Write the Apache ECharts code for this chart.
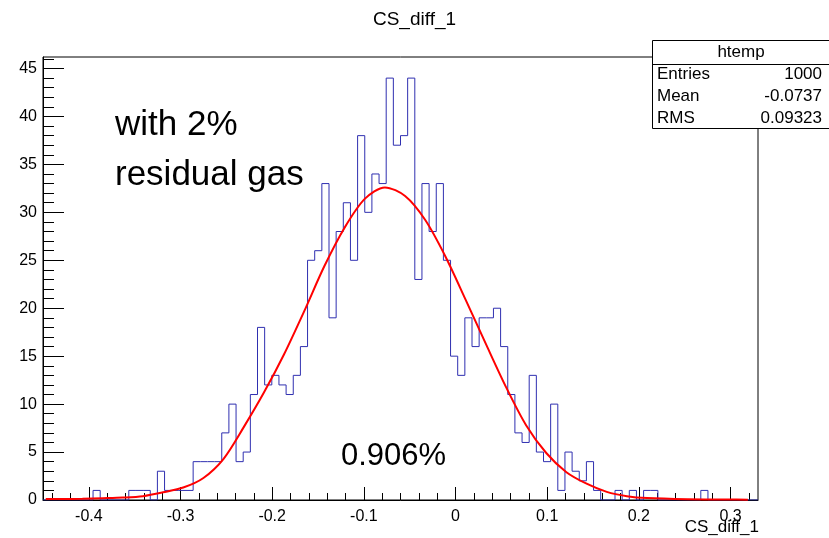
<!DOCTYPE html>
<html>
<head>
	<meta http-equiv="Content-Type" content="text/html; charset=UTF-8">
	<title>CS_diff_1</title>
	<script src="https://cdn.jsdelivr.net/npm/echarts@6/dist/echarts.min.js"></script>
	<style>
		body { margin: 0; background: #fff; }
	</style>
</head>
<body>

	<div id="main" style="width: 829px;height:538px;"></div>

	<script>

		// histogram binning (ROOT htemp, 100 bins)
		var histMin = -0.45;
		var histMax = 0.33;

		// bin contents
		var counts = [
			0, 0, 0, 0, 0, 0, 0, 1, 0, 0,
			0, 0, 1, 1, 1, 0, 3, 1, 1, 1,
			1, 4, 4, 4, 4, 7, 10, 4, 5, 11,
			18, 12, 13, 12, 11, 13, 16, 25, 26, 33,
			19, 28, 31, 25, 38, 30, 34, 33, 44, 37,
			38, 44, 23, 33, 28, 33, 25, 15, 13, 19,
			16, 19, 19, 20, 16, 11, 7, 6, 13, 5,
			4, 10, 1, 5, 3, 2, 4, 1, 0, 0,
			1, 0, 1, 0, 1, 1, 0, 0, 0, 0,
			0, 0, 1, 0, 0, 0, 0, 0, 0, 0
		];

		// gaussian fit curve
		var fitX = [-0.447, -0.429, -0.407, -0.385, -0.363, -0.341, -0.319, -0.297, -0.275, -0.253,
			-0.231, -0.209, -0.187, -0.165, -0.143, -0.121, -0.099, -0.077, -0.055, -0.033,
			-0.011, 0.011, 0.033, 0.055, 0.077, 0.099, 0.121, 0.143, 0.165, 0.187,
			0.209, 0.253, 0.297, 0.319];
		var fitY = [0.1, 0.1, 0.12, 0.18, 0.25, 0.4, 0.8, 1.3, 2.3, 4.3,
			7.6, 11.2, 15.2, 19.7, 24.4, 28.4, 31.4, 32.6, 31.7, 29.2,
			25.4, 20.9, 16.3, 11.8, 7.8, 4.9, 2.9, 1.7, 0.85, 0.4,
			0.2, 0.08, 0.05, 0.03];

		var xTickLabels = [-0.4, -0.3, -0.2, -0.1, 0, 0.1, 0.2, 0.3];
		var yTickLabels = [0, 5, 10, 15, 20, 25, 30, 35, 40, 45];

		var statsRows = [
			['Entries', '1000'],
			['Mean', '-0.0737'],
			['RMS', '0.09323']
		];

		var FONT = 'Liberation Sans';

		// step outline points: left edge of each bin, plus the right edge of the last one
		var binWidth = (histMax - histMin) / counts.length;
		var histData = [];
		for (var i = 0; i < counts.length; i++) {
			histData.push([histMin + i * binWidth, counts[i]]);
		}
		histData.push([histMax, counts[counts.length - 1]]);

		var fitData = [];
		for (var j = 0; j < fitX.length; j++) {
			fitData.push([fitX[j], fitY[j]]);
		}

		// minor tick positions
		var xMinor = [];
		for (var k = -22; k <= 16; k++) {
			xMinor.push(+(k * 0.02).toFixed(2));
		}
		var yMinor = [];
		for (var m = 0; m <= 46; m++) {
			yMinor.push(m);
		}

		var chartDom = document.getElementById('main');
		var myChart = echarts.init(chartDom, null, { renderer: 'canvas' });

		var statsGraphic = [
			{ type: 'rect', shape: { x: 652.5, y: 40.5, width: 177, height: 88 },
				style: { fill: '#fff', stroke: '#000', lineWidth: 1 } },
			{ type: 'line', shape: { x1: 652.5, y1: 64.5, x2: 829, y2: 64.5 },
				style: { stroke: '#000', lineWidth: 1 } },
			{ type: 'text', x: 741, y: 52,
				style: { text: 'htemp', font: '17px ' + FONT, fill: '#000', align: 'center', verticalAlign: 'middle' } }
		];
		for (var r = 0; r < statsRows.length; r++) {
			var ry = 74 + r * 22;
			statsGraphic.push({ type: 'text', x: 657, y: ry,
				style: { text: statsRows[r][0], font: '17px ' + FONT, fill: '#000', align: 'left', verticalAlign: 'middle' } });
			statsGraphic.push({ type: 'text', x: 822, y: ry,
				style: { text: statsRows[r][1], font: '17px ' + FONT, fill: '#000', align: 'right', verticalAlign: 'middle' } });
		}

		var option = {
			animation: false,
			backgroundColor: '#fff',
			textStyle: { fontFamily: FONT },
			title: {
				text: 'CS_diff_1',
				left: 'center',
				top: 5,
				textStyle: { fontFamily: FONT, fontSize: 19, fontWeight: 'normal', color: '#000' }
			},
			grid: {
				left: 43,
				right: 71,
				top: 57,
				bottom: 38,
				show: true,
				borderColor: '#000',
				borderWidth: 1,
				backgroundColor: 'transparent'
			},
			xAxis: [
				{
					type: 'value',
					min: histMin,
					max: histMax,
					axisLine: { show: true, onZero: false, lineStyle: { color: '#000', width: 1 } },
					axisTick: { show: true, inside: true, length: 13, customValues: xTickLabels, lineStyle: { color: '#000' } },
					axisLabel: { customValues: xTickLabels, margin: 9, fontSize: 16, color: '#000', fontFamily: FONT },
					splitLine: { show: false }
				},
				{
					type: 'value',
					min: histMin,
					max: histMax,
					position: 'bottom',
					axisLine: { show: false, onZero: false },
					axisTick: { show: true, inside: true, length: 7, customValues: xMinor, lineStyle: { color: '#000' } },
					axisLabel: { show: false },
					splitLine: { show: false }
				}
			],
			yAxis: [
				{
					type: 'value',
					min: 0,
					max: 46.2,
					position: 'left',
					axisLine: { show: true, onZero: false, lineStyle: { color: '#000', width: 1 } },
					axisTick: { show: true, inside: true, length: 21, customValues: yTickLabels, lineStyle: { color: '#000' } },
					axisLabel: { customValues: yTickLabels, margin: 6, fontSize: 16, color: '#000', fontFamily: FONT },
					splitLine: { show: false }
				},
				{
					type: 'value',
					min: 0,
					max: 46.2,
					position: 'left',
					axisLine: { show: false, onZero: false },
					axisTick: { show: true, inside: true, length: 11, customValues: yMinor, lineStyle: { color: '#000' } },
					axisLabel: { show: false },
					splitLine: { show: false }
				}
			],
			series: [
				{
					name: 'htemp',
					type: 'line',
					step: 'end',
					data: histData,
					showSymbol: false,
					symbol: 'none',
					lineStyle: { color: '#2f2fb0', width: 1 },
					z: 3
				},
				{
					name: 'fit',
					type: 'line',
					data: fitData,
					smooth: 0.3,
					showSymbol: false,
					symbol: 'none',
					lineStyle: { color: '#ff0000', width: 2 },
					z: 4
				}
			],
			graphic: [
				{ type: 'text', x: 115, y: 125, z: 10,
					style: { text: 'with 2%', font: '35px ' + FONT, fill: '#000', verticalAlign: 'middle' } },
				{ type: 'text', x: 115, y: 175, z: 10,
					style: { text: 'residual gas', font: '35px ' + FONT, fill: '#000', verticalAlign: 'middle' } },
				{ type: 'text', x: 341, y: 456, z: 10,
					style: { text: '0.906%', font: '31px ' + FONT, fill: '#000', verticalAlign: 'middle' } },
				// x axis title, right aligned under the frame
				{ type: 'text', x: 759, y: 527, z: 10,
					style: { text: 'CS_diff_1', font: '17px ' + FONT, fill: '#000', align: 'right', verticalAlign: 'middle' } },
				{ type: 'group', z: 20, children: statsGraphic }
			]
		};

		option && myChart.setOption(option);

	</script>

</body>
</html>
